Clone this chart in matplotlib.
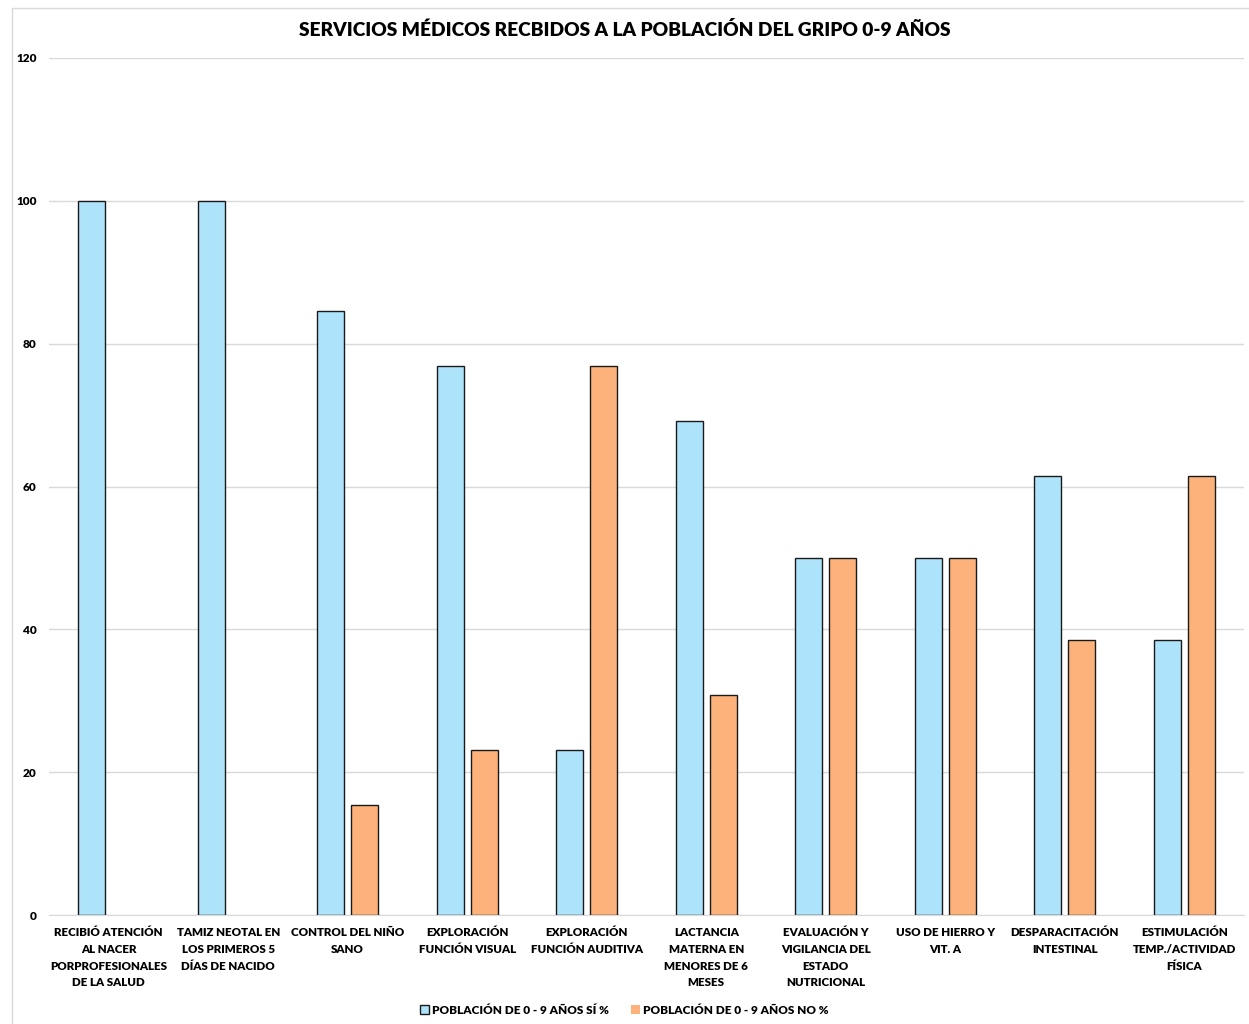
import matplotlib
matplotlib.use("Agg")
import matplotlib.pyplot as plt
import numpy as np
from matplotlib.patches import Rectangle

categories = [
    "RECIBIÓ ATENCIÓN\nAL NACER\nPORPROFESIONALES\nDE LA SALUD",
    "TAMIZ NEOTAL EN\nLOS PRIMEROS 5\nDÍAS DE NACIDO",
    "CONTROL DEL NIÑO\nSANO",
    "EXPLORACIÓN\nFUNCIÓN VISUAL",
    "EXPLORACIÓN\nFUNCIÓN AUDITIVA",
    "LACTANCIA\nMATERNA EN\nMENORES DE 6\nMESES",
    "EVALUACIÓN Y\nVIGILANCIA DEL\nESTADO\nNUTRICIONAL",
    "USO DE HIERRO Y\nVIT. A",
    "DESPARACITACIÓN\nINTESTINAL",
    "ESTIMULACIÓN\nTEMP./ACTIVIDAD\nFÍSICA",
]
si_values = [100, 100, 84.6, 76.9, 23.1, 69.2, 50, 50, 61.5, 38.5]
no_values = [0, 0, 15.4, 23.1, 76.9, 30.8, 50, 50, 38.5, 61.5]
series_names = ["POBLACIÓN DE 0 - 9 AÑOS SÍ %", "POBLACIÓN DE 0 - 9 AÑOS NO %"]
yticks = [0, 20, 40, 60, 80, 100, 120]

font = ["Lato", "DejaVu Sans"]
plt.rcParams["font.family"] = font
wt = "heavy"

fig = plt.figure(figsize=(12.49, 10.24), dpi=100)
ax = fig.add_axes([49 / 1249, 1 - 915 / 1024, 1195 / 1249, (915 - 58) / 1024])

x = np.arange(len(categories))
w = 0.226
off = 0.144
blue = "#ADE3FB"
orange = "#FDB27B"
b1 = ax.bar(x - off, si_values, w, color=blue, edgecolor="#1a1a1a", linewidth=1.0, label=series_names[0], zorder=3)
b2 = ax.bar(x + off, no_values, w, color=orange, edgecolor="#1a1a1a", linewidth=1.0, label=series_names[1], zorder=3)
for bars, vals in ((b1, si_values), (b2, no_values)):
    for r, v in zip(bars, vals):
        if v == 0:
            r.set_linewidth(0)

ax.set_xlim(-0.5, len(categories) - 0.5)
ax.set_ylim(0, 120)
ax.set_yticks(yticks)
ax.set_yticklabels([str(t) for t in yticks], fontsize=8.5, fontweight=wt)
ax.yaxis.grid(True, color="#d9d9d9", linewidth=1.0, zorder=0)
ax.set_axisbelow(True)
ax.set_xticks(x)
ax.set_xticklabels(categories, fontsize=8.3, fontweight=wt, linespacing=1.62)
ax.tick_params(axis="both", length=0)
ax.tick_params(axis="x", pad=9)
ax.tick_params(axis="y", pad=9)
for s in ["top", "right", "left"]:
    ax.spines[s].set_visible(False)
ax.spines["bottom"].set_color("#d9d9d9")

fig.text(0.5, 1 - 30 / 1024, "SERVICIOS MÉDICOS RECBIDOS A LA POBLACIÓN DEL GRIPO 0-9 AÑOS",
         ha="center", va="center", fontsize=13.8, fontweight=wt)

leg = fig.legend(loc="center", bbox_to_anchor=(0.5, 1 - 1010 / 1024), ncol=2, frameon=False,
                 handlelength=0.7, handleheight=0.7, handletextpad=0.3,
                 columnspacing=1.9, prop={"family": font, "weight": wt, "size": 8.5})

fig.patches.append(Rectangle((12 / 1249, -0.01), 1.1, 1 - 8 / 1024 + 0.01, transform=fig.transFigure,
                             fill=False, edgecolor="#d9d9d9", linewidth=1.0))

fig.savefig("out.png", dpi=100)
